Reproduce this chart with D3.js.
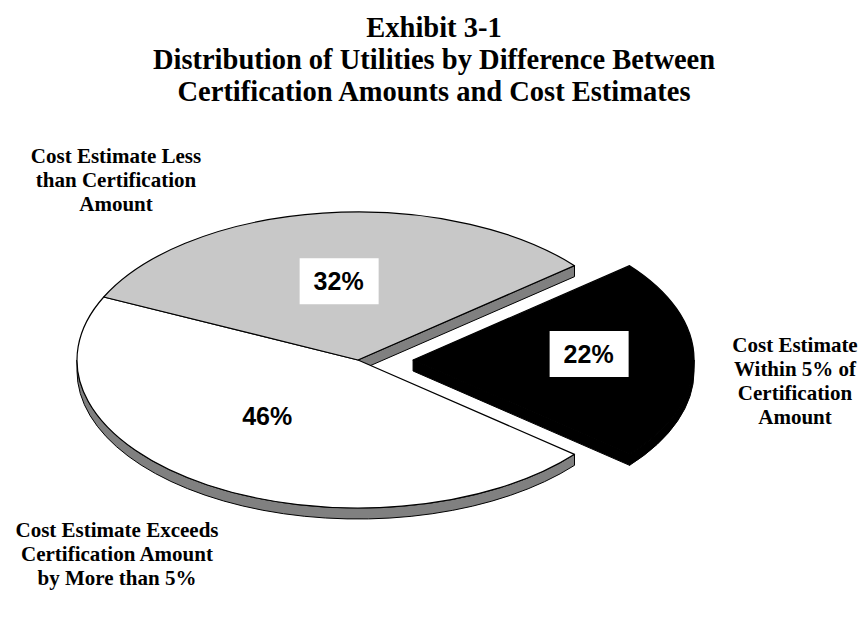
<!DOCTYPE html>
<html>
<head>
<meta charset="utf-8">
<script src="https://cdn.jsdelivr.net/npm/d3@7/dist/d3.min.js"></script>
<style>
body { margin: 0; background: #fff; }
</style>
</head>
<body>
<svg></svg>
<script>
// chart data
var titleLines = ["Exhibit 3-1",
    "Distribution of Utilities by Difference Between",
    "Certification Amounts and Cost Estimates"];
var categories = ["Within 5%", "Exceeds by More than 5%", "Less than Certification"];
var values = [22, 46, 32];
var pctLabels = ["22%", "46%", "32%"];
var catLabels = [
    ["Cost Estimate", "Within 5% of", "Certification", "Amount"],
    ["Cost Estimate Exceeds", "Certification Amount", "by More than 5%"],
    ["Cost Estimate Less", "than Certification", "Amount"]
];
var exploded = [true, false, false];

// look
var topFill = ["#000000", "#ffffff", "#c8c8c8"];
var sideFill = ["#000000", "#808080", "#808080"];
var width = 868, height = 624;
var cx = 358, cy = 360, rx = 281, ry = 148, depth = 11;
var explode = 0.196;
var catPos = [[795, 352, 24], [117, 537, 24], [116, 163, 24]];
var pctNudge = [[21, -6], [-8, -13], [0, 2]];

var svg = d3.select("svg")
    .attr("width", width)
    .attr("height", height);

var total = d3.sum(values);
var start = Math.PI / 2 - Math.PI * values[0] / total;
var pie = d3.pie().sort(null).value(function(d) { return d; })
    .startAngle(start).endAngle(start + 2 * Math.PI);
var arcs = pie(values);

arcs.forEach(function(d, i) {
    var mid = (d.startAngle + d.endAngle) / 2;
    d.dx = exploded[i] ? explode * rx * Math.sin(mid) : 0;
    d.dy = exploded[i] ? -explode * ry * Math.cos(mid) : 0;
    d.mid = mid;
});

function pt(d, a, down) {
    return [cx + d.dx + rx * Math.sin(a), cy + d.dy - ry * Math.cos(a) + (down || 0)];
}

function topPath(d) {
    var c = [cx + d.dx, cy + d.dy], p1 = pt(d, d.startAngle), p2 = pt(d, d.endAngle);
    var large = (d.endAngle - d.startAngle) > Math.PI ? 1 : 0;
    return "M" + c + "L" + p1 + "A" + rx + "," + ry + " 0 " + large + " 1 " + p2 + "Z";
}

// front rim between two angles
function rimPath(d, a1, a2) {
    var p1 = pt(d, a1), p2 = pt(d, a2), q1 = pt(d, a1, depth), q2 = pt(d, a2, depth);
    var large = (a2 - a1) > Math.PI ? 1 : 0;
    return "M" + p1 + "A" + rx + "," + ry + " 0 " + large + " 1 " + p2 +
        "L" + q2 + "A" + rx + "," + ry + " 0 " + large + " 0 " + q1 + "Z";
}

function facePath(d, a) {
    var c = [cx + d.dx, cy + d.dy], p = pt(d, a);
    return "M" + c + "L" + p + "L" + [p[0], p[1] + depth] + "L" + [c[0], c[1] + depth] + "Z";
}

var sideG = svg.append("g");
var n = arcs.length;
arcs.forEach(function(d, i) {
    // rim on the near half
    [[Math.PI / 2, 3 * Math.PI / 2], [5 * Math.PI / 2, 7 * Math.PI / 2]].forEach(function(r) {
        var a1 = Math.max(d.startAngle, r[0]), a2 = Math.min(d.endAngle, r[1]);
        if (a2 > a1) {
            sideG.append("path")
                .attr("d", rimPath(d, a1, a2))
                .attr("fill", sideFill[i])
                .attr("stroke", "#000")
                .attr("stroke-width", 1);
        }
    });
    // cut faces next to the gap
    var prev = (i + n - 1) % n, next = (i + 1) % n;
    if ((exploded[i] || exploded[prev]) && Math.sin(d.startAngle) < 0)
        sideG.append("path").attr("d", facePath(d, d.startAngle))
            .attr("fill", sideFill[i]).attr("stroke", "#000").attr("stroke-width", 1);
    if ((exploded[i] || exploded[next]) && Math.sin(d.endAngle) > 0)
        sideG.append("path").attr("d", facePath(d, d.endAngle))
            .attr("fill", sideFill[i]).attr("stroke", "#000").attr("stroke-width", 1)
            .attr("stroke-linejoin", "round");
});

svg.append("g").selectAll("path")
    .data(arcs)
    .enter().append("path")
    .attr("d", topPath)
    .attr("fill", function(d, i) { return topFill[i]; })
    .attr("stroke", "#000")
    .attr("stroke-width", 1.2)
    .attr("stroke-linejoin", "round");

// percentage labels in white boxes
var lab = svg.append("g").selectAll("g")
    .data(arcs)
    .enter().append("g")
    .attr("transform", function(d, i) {
        var x = cx + d.dx + 0.55 * rx * Math.sin(d.mid) + pctNudge[i][0];
        var y = cy + d.dy - 0.55 * ry * Math.cos(d.mid) + pctNudge[i][1];
        return "translate(" + x + "," + y + ")";
    });
lab.append("rect")
    .attr("x", -39).attr("y", -23)
    .attr("width", 79).attr("height", 46)
    .attr("fill", "#fff");
lab.append("text")
    .attr("text-anchor", "middle")
    .attr("dy", "0.36em")
    .style("font-family", "'Liberation Sans', Arial, sans-serif")
    .style("font-weight", "bold")
    .style("font-size", "25px")
    .text(function(d, i) { return pctLabels[i]; });

// category labels
catLabels.forEach(function(lines, i) {
    var t = svg.append("text")
        .attr("text-anchor", "middle")
        .style("font-family", "'Liberation Serif', 'Times New Roman', serif")
        .style("font-weight", "bold")
        .style("font-size", "21px");
    lines.forEach(function(s, j) {
        t.append("tspan")
            .attr("x", catPos[i][0])
            .attr("y", catPos[i][1] + j * catPos[i][2])
            .text(s);
    });
});

// title
var title = svg.append("text")
    .attr("text-anchor", "middle")
    .style("font-family", "'Liberation Serif', 'Times New Roman', serif")
    .style("font-weight", "bold")
    .style("font-size", "28.5px");
titleLines.forEach(function(s, j) {
    title.append("tspan")
        .attr("x", 434)
        .attr("y", 37 + j * 32)
        .text(s);
});
</script>
</body>
</html>
